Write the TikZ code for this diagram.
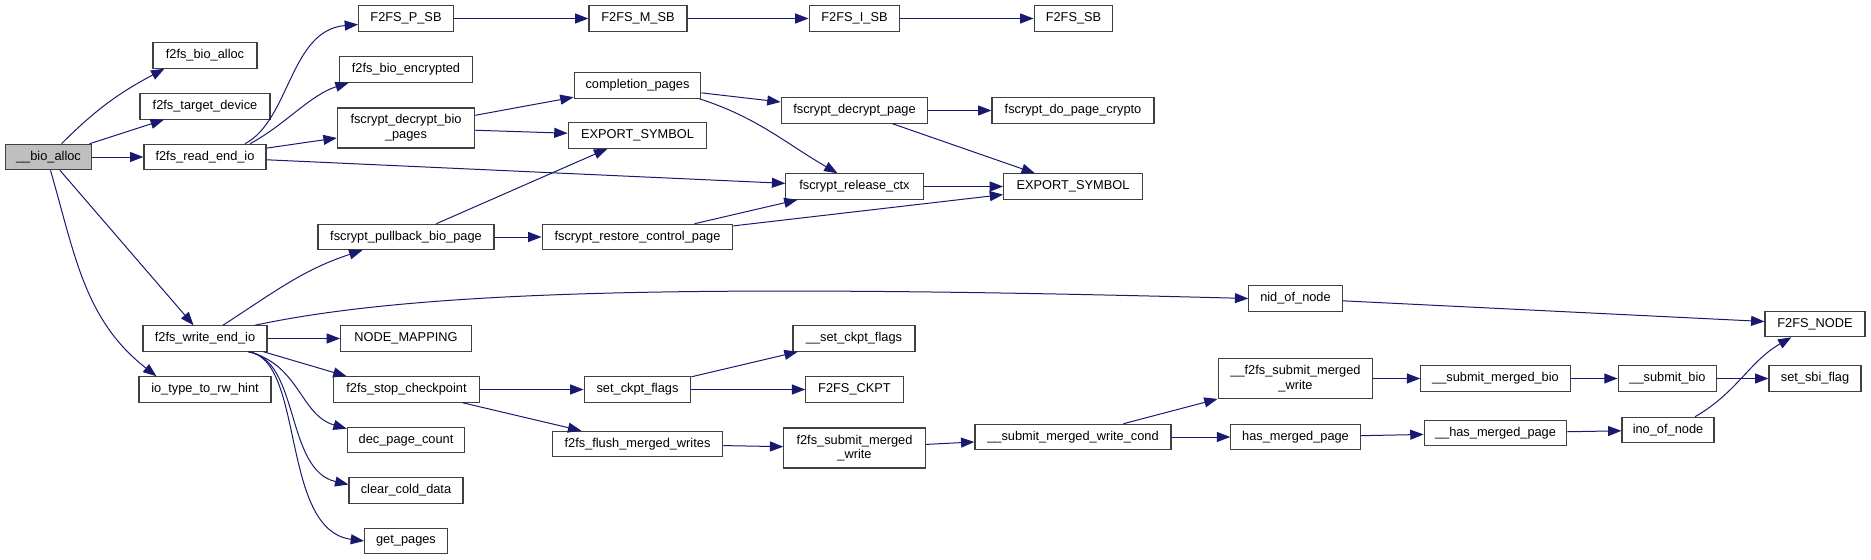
\documentclass[tikz,border=0pt]{standalone}
\usepackage{fontspec}
\setmainfont{Liberation Sans}
\usetikzlibrary{positioning,arrows.meta,calc}
\definecolor{edgeBlue}{RGB}{25,25,112}
\definecolor{boxLine}{RGB}{64,64,64}
\definecolor{rootFill}{RGB}{191,191,191}

\begin{document}
\begin{tikzpicture}[
  x=0.75pt, y=-0.75pt,
  font=\fontsize{9.6}{11}\selectfont,
  >={Triangle[length=10pt,width=7.5pt]},
  fn/.style={draw=boxLine, line width=0.9pt, fill=white, inner xsep=2pt, inner ysep=1pt, minimum height=19pt, align=center},
  fn2/.style={fn, minimum height=30pt},
  root/.style={fn, fill=rootFill},
  call/.style={->, draw=edgeBlue, line width=0.75pt},
]
\useasboundingbox (0,0) rectangle (1871,560);

% ---- caller ----
\node[root, minimum width=65pt] (bioalloc) at (48.5,157) {\_\_bio\_alloc};

% ---- first column ----
\node[fn, minimum width=78pt]   (f2fsbioalloc) at (205,55.5)  {f2fs\_bio\_alloc};
\node[fn, minimum width=97.5pt] (targetdev)    at (205,106.5) {f2fs\_target\_device};
\node[fn, minimum width=91.5pt] (readend)      at (205,157)   {f2fs\_read\_end\_io};
\node[fn, minimum width=93pt]   (writeend)     at (205,338.5) {f2fs\_write\_end\_io};
\node[fn, minimum width=99pt]   (rwhint)       at (205,389.5) {io\_type\_to\_rw\_hint};

% ---- second column ----
\node[fn, minimum width=71pt]   (psb)       at (406,18.5)  {F2FS\_P\_SB};
\node[fn, minimum width=100pt]  (bioenc)    at (406,69.5)  {f2fs\_bio\_encrypted};
\node[fn2, minimum width=103pt] (decbio)    at (406,128)   {fscrypt\_decrypt\_bio\\\_pages};
\node[fn, minimum width=132pt]  (pullback)  at (406,237)   {fscrypt\_pullback\_bio\_page};
\node[fn, minimum width=98pt]   (nodemap)   at (406,338.5) {NODE\_MAPPING};
\node[fn, minimum width=110pt]  (stopcp)    at (406.5,389.5) {f2fs\_stop\_checkpoint};
\node[fn, minimum width=88pt]   (decpage)   at (406,440)   {dec\_page\_count};
\node[fn, minimum width=85.5pt] (clearcold) at (406,490.5) {clear\_cold\_data};
\node[fn, minimum width=62pt]   (getpages)  at (406,541)   {get\_pages};

% ---- third column ----
\node[fn, minimum width=73.5pt] (msb)        at (638,18.5)  {F2FS\_M\_SB};
\node[fn, minimum width=95pt]   (completion) at (637.5,85.5) {completion\_pages};
\node[fn, minimum width=104pt]  (exportA)    at (637.5,135.5) {EXPORT\_SYMBOL};
\node[fn, minimum width=143pt]  (restore)    at (637.5,237) {fscrypt\_restore\_control\_page};
\node[fn, minimum width=80pt]   (setckpt)    at (637.5,389.5) {set\_ckpt\_flags};
\node[fn, minimum width=128pt]  (flush)      at (637.5,444) {f2fs\_flush\_merged\_writes};

% ---- fourth column ----
\node[fn, minimum width=68pt]    (isb)       at (854.5,18.5)  {F2FS\_I\_SB};
\node[fn, minimum width=110pt]   (decpagecr) at (854.5,110.5) {fscrypt\_decrypt\_page};
\node[fn, minimum width=103pt]   (release)   at (854.5,186.5) {fscrypt\_release\_ctx};
\node[fn, minimum width=91.5pt]  (setckptu)  at (854,338.5)   {\_\_set\_ckpt\_flags};
\node[fn, minimum width=73pt]    (ckpt)      at (854.5,389.5) {F2FS\_CKPT};
\node[fn2, minimum width=106pt]  (submitmw)  at (854.5,448)   {f2fs\_submit\_merged\\\_write};

% ---- fifth column ----
\node[fn, minimum width=59pt]    (sb)       at (1073.5,18.5) {F2FS\_SB};
\node[fn, minimum width=121.5pt] (docrypto) at (1073,110.5)  {fscrypt\_do\_page\_crypto};
\node[fn, minimum width=104pt]   (exportB)  at (1073,186.5)  {EXPORT\_SYMBOL};
\node[fn, minimum width=147pt]   (mwcond)   at (1073,437)    {\_\_submit\_merged\_write\_cond};

% ---- right part ----
\node[fn, minimum width=70pt]   (nid)        at (1295.5,298.5) {nid\_of\_node};
\node[fn2, minimum width=116pt] (f2fssubmit) at (1295.5,378.5) {\_\_f2fs\_submit\_merged\\\_write};
\node[fn, minimum width=97pt]   (hasmerged)  at (1295.5,437)   {has\_merged\_page};
\node[fn, minimum width=112pt]  (smbio)      at (1495.5,378.5) {\_\_submit\_merged\_bio};
\node[fn, minimum width=107pt]  (hasmergedu) at (1495.5,433)   {\_\_has\_merged\_page};
\node[fn, minimum width=74pt]   (sbio)       at (1667.5,378.5) {\_\_submit\_bio};
\node[fn, minimum width=69pt]   (ino)        at (1668,430)     {ino\_of\_node};
\node[fn, minimum width=75pt]   (f2fsnode)   at (1815,324)     {F2FS\_NODE};
\node[fn, minimum width=69pt]   (sbiflag)    at (1815,378.5)   {set\_sbi\_flag};

% ============ calls ============
% __bio_alloc
\draw[call] ($(bioalloc.north)+(13,0)$) to[out=45,in=208] ($(f2fsbioalloc.south west)+(12,0)$);
\draw[call] (bioalloc) -- (targetdev);
\draw[call] (bioalloc) -- (readend);
\draw[call] (bioalloc) -- (writeend);
\draw[call] ($(bioalloc.south)+(2,0)$) to[out=-74,in=142] ($(rwhint.north west)+(18,0)$);

% f2fs_read_end_io
\draw[call] ($(readend.north)+(40,0)$) .. controls (290,120) and (290,30) .. ($(psb.west)+(0,6)$);
\draw[call] ($(readend.north)+(45,0)$) .. controls (285,125) and (310,95) .. ($(bioenc.south west)+(10,0)$);
\draw[call] (readend) -- (decbio);
\draw[call] (readend) -- (release);

% superblock chain
\draw[call] (psb) -- (msb);
\draw[call] (msb) -- (isb);
\draw[call] (isb) -- (sb);

% decrypt path
\draw[call] (decbio) -- (completion);
\draw[call] (decbio) -- (exportA);
\draw[call] (completion) -- (decpagecr);
\draw[call] ($(completion.south east)+(-2,0)$) to[out=-18,in=150] ($(release.north)+(-17,0)$);
\draw[call] (decpagecr) -- (docrypto);
\draw[call] (decpagecr) -- (exportB);
\draw[call] (release) -- (exportB);
\draw[call] (pullback) -- (exportA);
\draw[call] (pullback) -- (restore);
\draw[call] (restore) -- (release);
\draw[call] (restore) -- (exportB);

% f2fs_write_end_io
\draw[call] ($(writeend.north)+(18,0)$) to[out=33,in=198] ($(pullback.south west)+(45,0)$);
\draw[call] ($(writeend.north)+(50,0)$) .. controls (420,290) and (700,284) .. (nid.west);
\draw[call] (writeend) -- (nodemap);
\draw[call] ($(writeend.south east)+(-4,0)$) -- ($(stopcp.north west)+(14,0)$);
\draw[call] ($(writeend.south east)+(-19,0)$) .. controls (300,365) and (300,415) .. ($(decpage.north west)+(0,2)$);
\draw[call] ($(writeend.south east)+(-19,0)$) .. controls (300,360) and (285,470) .. ($(clearcold.west)+(0,-6)$);
\draw[call] ($(writeend.south east)+(-19,0)$) .. controls (305,360) and (280,530) .. (getpages.west);

% checkpoint / merged writes
\draw[call] (stopcp) -- (setckpt);
\draw[call] (stopcp) -- (flush);
\draw[call] (setckpt) -- (setckptu);
\draw[call] (setckpt) -- (ckpt);
\draw[call] (flush) -- (submitmw);
\draw[call] (submitmw) -- (mwcond);
\draw[call] (mwcond) -- (f2fssubmit);
\draw[call] (mwcond) -- (hasmerged);
\draw[call] (f2fssubmit) -- (smbio);
\draw[call] (hasmerged) -- (hasmergedu);
\draw[call] (smbio) -- (sbio);
\draw[call] (sbio) -- (sbiflag);
\draw[call] (hasmergedu) -- (ino);
\draw[call] ($(ino.north)+(27,0)$) to[out=30,in=210] ($(f2fsnode.south west)+(27,0)$);
\draw[call] (nid) -- (f2fsnode);

\end{tikzpicture}
\end{document}
